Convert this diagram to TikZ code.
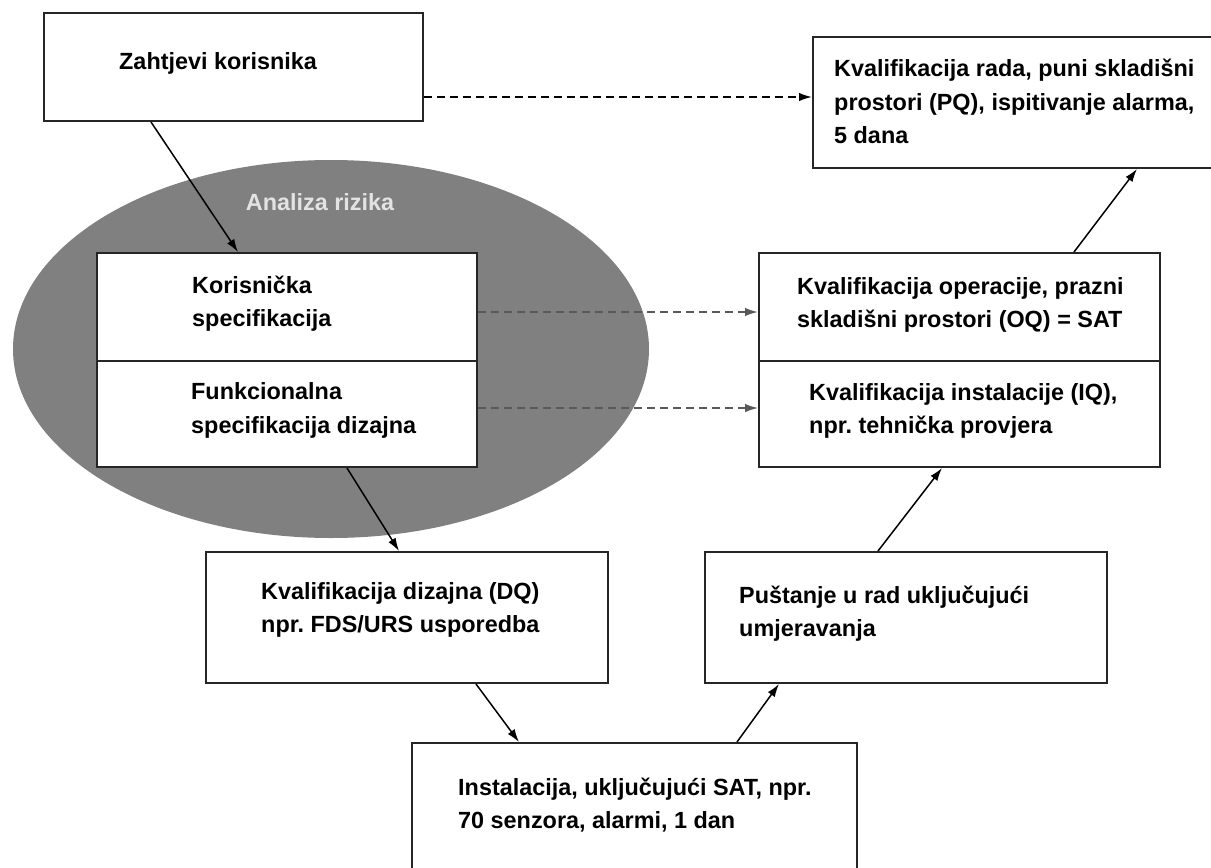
\documentclass[tikz,border=0pt]{standalone}
\usepackage{fontspec}
\setmainfont{Liberation Sans}
\usetikzlibrary{arrows.meta}
\frenchspacing
\begin{document}
\begin{tikzpicture}[x=1pt,y=-1pt,
    box/.style={draw=black!85,line width=2pt,fill=white,inner sep=0pt},
    txt/.style={anchor=west,align=left,inner sep=0pt,font=\fontsize{23.4}{33.5}\selectfont\bfseries},
    arr/.style={-{Latex[length=13pt,width=8.5pt]},line width=1.5pt},
    dsh/.style={-{Latex[length=13pt,width=8.5pt]},line width=1.7pt,dash pattern=on 8pt off 5pt},
    gdsh/.style={dsh,draw=black!65}]
  \useasboundingbox (0,0) rectangle (1211,868);
  \clip (0,0) rectangle (1211,868);
  \fill[gray] (331,349) ellipse [x radius=318, y radius=189];
  \node[txt,anchor=center,text=gray!22] (risk) at (320,202) {Analiza rizika};
  \node[box,minimum width=379pt,minimum height=108pt] (zk) at (233.5,67) {};
  \node[box,minimum width=417pt,minimum height=131pt] (pq) at (1021.5,102.5) {};
  \node[box,minimum width=380pt,minimum height=108pt] (ks) at (287,307) {};
  \node[box,minimum width=380pt,minimum height=106pt] (fds) at (287,414) {};
  \node[box,minimum width=401pt,minimum height=108pt] (oq) at (959.5,307) {};
  \node[box,minimum width=401pt,minimum height=106pt] (iq) at (959.5,414) {};
  \node[box,minimum width=402pt,minimum height=131pt] (dq) at (407,617.5) {};
  \node[box,minimum width=402pt,minimum height=131pt] (pu) at (906,617.5) {};
  \node[box,minimum width=445pt,minimum height=140pt] (ins) at (634.5,813) {};
  \node[txt] (zk-t) at ([xshift=76pt,yshift=4pt]zk.west) {Zahtjevi korisnika};
  \node[txt] (pq-t) at ([xshift=22pt,yshift=1pt]pq.west) {Kvalifikacija rada, puni skladišni\\prostori (PQ), ispitivanje alarma,\\5 dana};
  \node[txt] (ks-t) at ([xshift=96pt,yshift=3.5pt]ks.west) {Korisnička\\specifikacija};
  \node[txt] (fds-t) at ([xshift=95pt,yshift=3.5pt]fds.west) {Funkcionalna\\specifikacija dizajna};
  \node[txt] (oq-t) at ([xshift=39pt,yshift=2pt]oq.west) {Kvalifikacija operacije, prazni\\skladišni prostori (OQ) = SAT};
  \node[txt] (iq-t) at ([xshift=51pt,yshift=3pt]iq.west) {Kvalifikacija instalacije (IQ),\\npr. tehnička provjera};
  \node[txt] (dq-t) at ([xshift=56pt,yshift=7.5pt]dq.west) {Kvalifikacija dizajna (DQ)\\npr. FDS/URS usporedba};
  \node[txt] (pu-t) at ([xshift=35pt,yshift=4pt]pu.west) {Puštanje u rad uključujući\\umjeravanja};
  \node[txt] (ins-t) at ([xshift=47pt,yshift=8pt]ins.west) {Instalacija, uključujući SAT, npr.\\70 senzora, alarmi, 1 dan};
  \begin{scope}[arr]
    \draw ([xshift=108pt]zk.south west) to ([xshift=142pt]ks.north west);
    \draw ([xshift=251pt]fds.south west) to ([xshift=194pt]dq.north west);
    \draw ([xshift=271pt]dq.south west) to ([xshift=108pt]ins.north west);
    \draw ([xshift=326pt]ins.north west) to ([xshift=75pt]pu.south west);
    \draw ([xshift=174pt]pu.north west) to ([xshift=184pt]iq.south west);
    \draw ([xshift=316pt]oq.north west) to ([xshift=325pt]pq.south west);
  \end{scope}
  \draw[dsh] ([yshift=-30pt]zk.east) to ([yshift=-30pt]zk.east -| pq.west);
  \draw[gdsh] ([yshift=-5pt]ks.east) to ([yshift=-5pt]ks.east -| oq.west);
  \draw[gdsh,line width=1.4pt] ([yshift=6pt]fds.east) to ([yshift=6pt]fds.east -| iq.west);
\end{tikzpicture}
\end{document}
